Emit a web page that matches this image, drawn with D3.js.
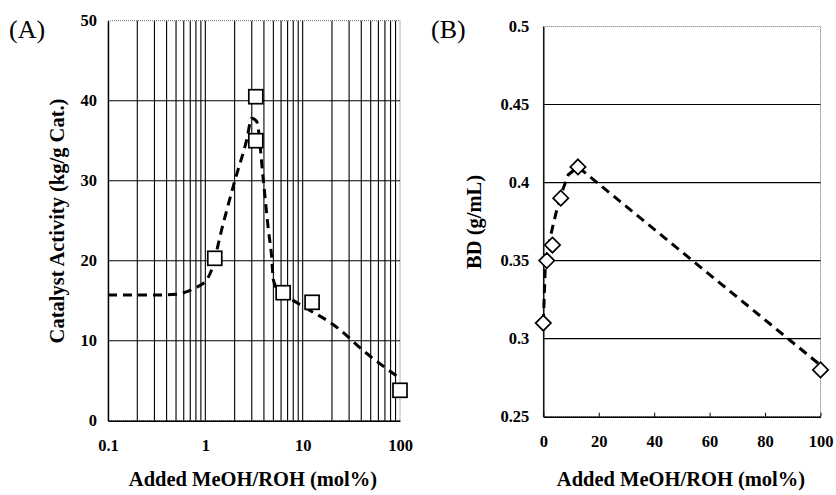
<!DOCTYPE html>
<html><head><meta charset="utf-8">
<script src="https://cdn.jsdelivr.net/npm/d3@7"></script>
<style>
body{margin:0;background:#fff;}
svg text{font-family:"Liberation Serif","Times New Roman",serif;fill:#000;}
</style></head>
<body><svg id="c" width="836" height="495"></svg>
<script>
// Panel A data: catalyst activity vs added MeOH/ROH (log axis)
const molA = [1.25, 3.3, 3.3, 6.3, 12.5, 100];
const activity = [20.3, 40.5, 35.0, 16.0, 14.8, 3.8];
const trendAx = [0.1, 0.3, 0.5, 0.67, 0.85, 1.03, 1.12, 1.53, 2.02, 2.66, 3.0, 3.37, 3.94, 4.45, 4.8, 5.0, 5.6, 7.4, 10.2, 20.7, 45.6, 100];
const trendAy = [15.7, 15.7, 15.8, 16.2, 16.8, 17.6, 18.4, 24.7, 30.1, 35.1, 37.8, 37.4, 30.1, 23.8, 20.5, 17.6, 16.3, 15.3, 14.25, 12.0, 8.4, 5.3];
const xTicksA = [0.1, 1, 10, 100];
const yTicksA = [0, 10, 20, 30, 40, 50];

// Panel B data: bulk density vs added MeOH/ROH (linear axis)
const molB = [0, 1.25, 3.3, 6.3, 12.5, 100];
const bd = [0.31, 0.35, 0.36, 0.39, 0.41, 0.28];
const trendBx = [0, 0.8, 2.5, 4.5, 6.3, 9, 12.5, 100];
const trendBy = [0.31, 0.35, 0.365, 0.38, 0.392, 0.405, 0.41, 0.283];
const xTicksB = [0, 20, 40, 60, 80, 100];
const yTicksB = [0.25, 0.3, 0.35, 0.4, 0.45, 0.5];

const svg = d3.select("#c");
const TICKFS = 16.5, TITLEFS = 20.5;

// ---------- Panel A ----------
const A = {l:108, r:400, t:20.7, b:420.7};
const xA = d3.scaleLog().domain([0.1,100]).range([A.l,A.r]);
const yA = d3.scaleLinear().domain([0,50]).range([A.b,A.t]);
const gA = svg.append("g");

gA.append("rect").attr("x",A.l).attr("y",A.t).attr("width",A.r-A.l).attr("height",A.b-A.t)
  .attr("fill","none").attr("stroke","#666").attr("stroke-width",1).attr("stroke-dasharray","1,1");

const logTicks = xA.ticks(30).filter(v=>v>0.1 && v<100);
gA.selectAll(".vg").data(logTicks).enter().append("line")
  .attr("x1",d=>xA(d)).attr("x2",d=>xA(d)).attr("y1",A.t).attr("y2",A.b)
  .attr("stroke","#000").attr("stroke-width",1.1);
gA.selectAll(".hg").data(yTicksA.filter(v=>v>0&&v<50)).enter().append("line")
  .attr("x1",A.l).attr("x2",A.r).attr("y1",d=>yA(d)).attr("y2",d=>yA(d))
  .attr("stroke","#000").attr("stroke-width",1.1);

const axA_x = gA.append("g").attr("transform",`translate(0,${A.b})`)
  .call(d3.axisBottom(xA).tickValues(xTicksA).tickFormat(d=>String(d)).tickSize(0).tickPadding(19));
const axA_y = gA.append("g").attr("transform",`translate(${A.l},0)`)
  .call(d3.axisLeft(yA).tickValues(yTicksA).tickSize(0).tickPadding(11));
[axA_x,axA_y].forEach(a=>{
  a.select(".domain").attr("stroke","#000").attr("stroke-width",1.4);
  a.selectAll("text").attr("font-size",TICKFS).attr("font-weight","bold").attr("font-family","Liberation Serif");
});

const lineA = d3.line().x(d=>xA(d[0])).y(d=>yA(d[1])).curve(d3.curveMonotoneX);
gA.append("path").datum(d3.zip(trendAx,trendAy)).attr("d",lineA)
  .attr("fill","none").attr("stroke","#000").attr("stroke-width",3).attr("stroke-dasharray","9,6");

gA.selectAll(".sq").data(d3.zip(molA,activity)).enter().append("rect")
  .attr("x",d=>xA(d[0])-7).attr("y",d=>yA(d[1])-7).attr("width",14).attr("height",14)
  .attr("fill","#fff").attr("stroke","#000").attr("stroke-width",1.7);

svg.append("text").attr("x",9).attr("y",38).attr("font-size",26).text("(A)");
svg.append("text").attr("x",253).attr("y",486).attr("text-anchor","middle")
  .attr("font-size",TITLEFS).attr("font-weight","bold").text("Added MeOH/ROH (mol%)");
svg.append("text").attr("transform","translate(64,221) rotate(-90)").attr("text-anchor","middle")
  .attr("font-size",TITLEFS).attr("font-weight","bold").text("Catalyst Activity (kg/g Cat.)");

// ---------- Panel B ----------
const B = {l:543.3, r:820.5, t:26.5, b:416.7};
const xB = d3.scaleLinear().domain([0,100]).range([B.l,B.r]);
const yB = d3.scaleLinear().domain([0.25,0.5]).range([B.b,B.t]);
const gB = svg.append("g");

gB.append("rect").attr("x",B.l).attr("y",B.t).attr("width",B.r-B.l).attr("height",B.b-B.t)
  .attr("fill","none").attr("stroke","#666").attr("stroke-width",1).attr("stroke-dasharray","1,1");
gB.selectAll(".hg").data(yTicksB.filter(v=>v>0.26&&v<0.49)).enter().append("line")
  .attr("x1",B.l).attr("x2",B.r).attr("y1",d=>yB(d)).attr("y2",d=>yB(d))
  .attr("stroke","#000").attr("stroke-width",1.1);

const axB_x = gB.append("g").attr("transform",`translate(0,${B.b})`)
  .call(d3.axisBottom(xB).tickValues(xTicksB).tickFormat(d3.format("d")).tickSizeInner(-4).tickSizeOuter(0).tickPadding(19));
const axB_y = gB.append("g").attr("transform",`translate(${B.l},0)`)
  .call(d3.axisLeft(yB).tickValues(yTicksB).tickFormat(d=>String(+d.toFixed(2))).tickSize(0).tickPadding(14));
[axB_x,axB_y].forEach(a=>{
  a.select(".domain").attr("stroke","#000").attr("stroke-width",1.4);
  a.selectAll("line").attr("stroke","#000");
  a.selectAll("text").attr("font-size",TICKFS).attr("font-weight","bold").attr("font-family","Liberation Serif");
});

const lineB = d3.line().x(d=>xB(d[0])).y(d=>yB(d[1]));
gB.append("path").datum(d3.zip(trendBx,trendBy)).attr("d",lineB)
  .attr("fill","none").attr("stroke","#000").attr("stroke-width",3).attr("stroke-dasharray","9,6");

const diamond = d3.symbol().type(d3.symbolDiamond2).size(150);
gB.selectAll(".dm").data(d3.zip(molB,bd)).enter().append("path")
  .attr("d",diamond).attr("transform",d=>`translate(${xB(d[0])},${yB(d[1])})`)
  .attr("fill","#fff").attr("stroke","#000").attr("stroke-width",1.7);

svg.append("text").attr("x",431).attr("y",38).attr("font-size",26).text("(B)");
svg.append("text").attr("x",681).attr("y",486).attr("text-anchor","middle")
  .attr("font-size",TITLEFS).attr("font-weight","bold").text("Added MeOH/ROH (mol%)");
svg.append("text").attr("transform","translate(481,222) rotate(-90)").attr("text-anchor","middle")
  .attr("font-size",TITLEFS).attr("font-weight","bold").text("BD (g/mL)");
</script></body></html>
